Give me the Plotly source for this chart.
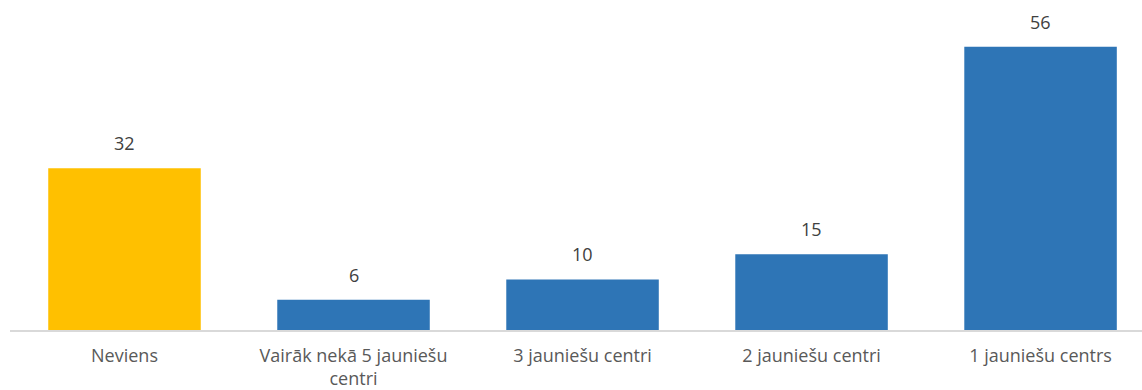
import plotly.graph_objects as go

categories = ["Neviens", "Vairāk nekā 5 jauniešu<br>centri", "3 jauniešu centri",
              "2 jauniešu centri", "1 jauniešu centrs"]
values = [32, 6, 10, 15, 56]
colors = ["#FFC000", "#2E75B6", "#2E75B6", "#2E75B6", "#2E75B6"]

fig = go.Figure(go.Bar(
    x=list(range(len(categories))),
    y=values,
    marker=dict(color=colors, line=dict(width=0)),
    hoverinfo="skip",
))

for i, v in enumerate(values):
    fig.add_annotation(
        x=i, y=v, text=str(v), showarrow=False,
        yanchor="bottom", yshift=11,
        font=dict(family="Open Sans", size=18, color="#404040"),
    )

fig.update_layout(
    width=1142, height=390,
    margin=dict(l=10, r=0, t=0, b=58),
    paper_bgcolor="white", plot_bgcolor="white",
    bargap=0.334,
    showlegend=False,
    font=dict(family="Open Sans", size=18, color="#595959"),
)
fig.update_xaxes(
    tickmode="array", tickvals=list(range(len(categories))), ticktext=categories,
    range=[-0.5, 4.443],
    showline=True, linecolor="#D9D9D9", linewidth=2,
    showgrid=False, zeroline=False, ticks="",
    ticklabelstandoff=8,
    tickfont=dict(family="Open Sans", size=18, color="#595959"),
)
fig.update_yaxes(range=[0, 65.25], visible=False, showgrid=False, zeroline=False)

fig.write_html("out.html")
